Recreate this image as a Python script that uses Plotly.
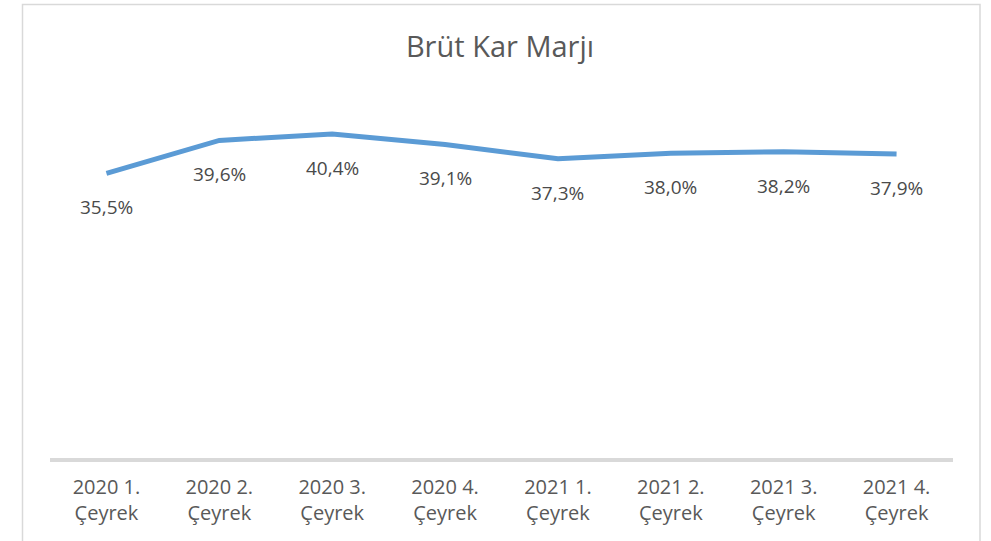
import plotly.graph_objects as go

categories = ["2020 1.<br>Çeyrek", "2020 2.<br>Çeyrek", "2020 3.<br>Çeyrek", "2020 4.<br>Çeyrek",
              "2021 1.<br>Çeyrek", "2021 2.<br>Çeyrek", "2021 3.<br>Çeyrek", "2021 4.<br>Çeyrek"]
margin_values = [35.5, 39.6, 40.4, 39.1, 37.3, 38.0, 38.2, 37.9]
title_text = "Brüt Kar Marjı"

W, H = 991, 541
PL, PR, PT, PB = 50, 953, 57, 458
L, T = PL, PT
R = W - PR
B = H - PB
plot_h = PB - PT
plot_w = PR - PL

FONT = "Open Sans, Noto Sans, sans-serif"

fig = go.Figure()
fig.add_trace(go.Scatter(
    x=categories, y=margin_values, mode="lines",
    line=dict(color="#5B9BD5", width=5),
    hoverinfo="skip", showlegend=False,
))

for c, v in zip(categories, margin_values):
    fig.add_annotation(
        x=c, y=v, xref="x", yref="y",
        text=f"{v:.1f}%".replace(".", ","),
        showarrow=False, yshift=-34,
        font=dict(family=FONT, size=19, color="#4A4A4A"),
    )

def px_x(p):
    return (p - PL) / plot_w

def px_y(p):
    return (PB - p) / plot_h

fig.add_shape(type="rect", xref="paper", yref="paper",
              x0=px_x(22.5), x1=px_x(980), y0=px_y(570), y1=px_y(4.5),
              line=dict(color="#D9D9D9", width=1.5), fillcolor="rgba(0,0,0,0)", layer="below")

fig.update_layout(
    width=W, height=H,
    margin=dict(l=L, r=R, t=T, b=B),
    paper_bgcolor="white", plot_bgcolor="white",
    title=dict(text=title_text, x=500 / W, xanchor="center",
               y=1 - 47 / H, yanchor="middle", yref="container",
               font=dict(family=FONT, size=29, color="#595959")),
    xaxis=dict(type="category", showline=True, linecolor="#D9D9D9", linewidth=4,
               showgrid=False, zeroline=False, ticks="",
               ticklabelstandoff=8,
               tickfont=dict(family=FONT, size=20, color="#595959"),
               range=[-0.5, len(categories) - 0.5]),
    yaxis=dict(range=[0, 50], visible=False, showgrid=False, zeroline=False),
)

fig.write_html("out.html", config={"displayModeBar": False, "staticPlot": True},
               post_script="document.body.style.margin='0';document.body.style.overflow='hidden';")
